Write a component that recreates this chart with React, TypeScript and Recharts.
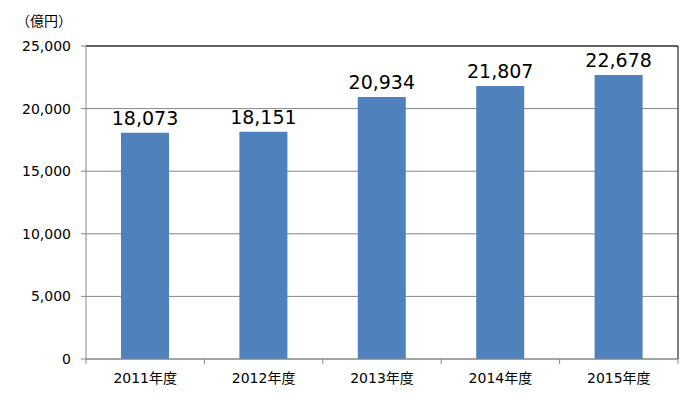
import React from 'react';
import { BarChart, Bar, XAxis, YAxis, CartesianGrid, LabelList } from 'recharts';

const categories = ['2011年度', '2012年度', '2013年度', '2014年度', '2015年度'];
const values = [18073, 18151, 20934, 21807, 22678];
const yTicks = [0, 5000, 10000, 15000, 20000, 25000];
const unitLabel = '（億円）';

const data = categories.map((c, i) => ({ name: c, value: values[i] }));

const W = 698;
const H = 411;
const M = { top: 46, right: 20, left: 0, bottom: 22 };
const Y_W = 86;
const X_H = 30;
const plotLeft = M.left + Y_W;
const plotRight = W - M.right;
const band = (plotRight - plotLeft) / categories.length;
const FONT = '"DejaVu Sans", "Noto Sans CJK JP", sans-serif';
const GRAY = '#868686';

const fmt = (v: number) => v.toLocaleString('en-US');

const XTick = (props: any) => {
  const { x, y, payload, index } = props;
  const left = x - band / 2;
  return (
    <g>
      <line x1={left} y1={y - 8} x2={left} y2={y - 3} stroke={GRAY} />
      {index === categories.length - 1 && (
        <line x1={left + band} y1={y - 8} x2={left + band} y2={y - 3} stroke={GRAY} />
      )}
      <text x={x} y={y + 16} textAnchor="middle" fontSize={14} fill="#000" fontFamily={FONT}>
        {payload.value}
      </text>
    </g>
  );
};

export default function App() {
  return (
    <div style={{ position: 'absolute', left: 0, top: 0, width: W, height: H, background: '#fff' }}>
      <div
        style={{
          position: 'absolute',
          left: 16,
          top: 10,
          fontSize: 14,
          fontFamily: FONT,
          color: '#000',
          whiteSpace: 'nowrap',
        }}
      >
        {unitLabel}
      </div>
      <BarChart width={W} height={H} data={data} margin={M}>
        <CartesianGrid horizontal vertical={false} stroke={GRAY} />
        <CartesianGrid
          horizontalPoints={[M.top]}
          verticalPoints={[plotRight]}
          stroke="#000"
        />
        <XAxis
          dataKey="name"
          height={X_H}
          axisLine={{ stroke: GRAY }}
          tickLine={false}
          tick={<XTick />}
          interval={0}
        />
        <YAxis
          width={Y_W}
          domain={[0, 25000]}
          ticks={yTicks}
          tickFormatter={fmt}
          axisLine={{ stroke: GRAY }}
          tickLine={{ stroke: GRAY }}
          tickSize={5}
          tickMargin={10}
          tick={{ fontSize: 14, fill: '#000', fontFamily: FONT }}
        />
        <Bar dataKey="value" fill="#4F81BD" barSize={48} isAnimationActive={false}>
          <LabelList
            dataKey="value"
            position="top"
            offset={8}
            formatter={(v: any) => fmt(Number(v))}
            style={{ fontSize: 19, fill: '#000', fontFamily: FONT }}
          />
        </Bar>
      </BarChart>
    </div>
  );
}
